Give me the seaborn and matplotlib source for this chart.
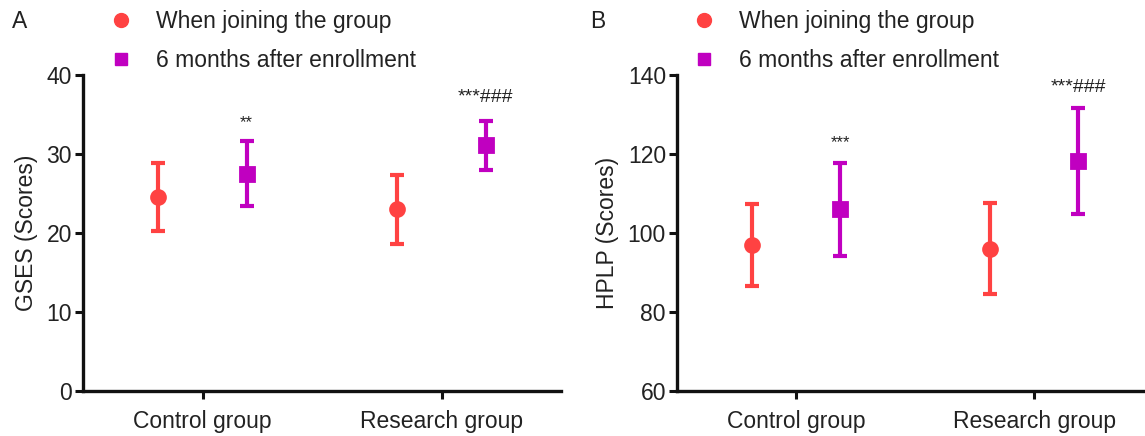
import matplotlib
matplotlib.use('Agg')
import matplotlib.pyplot as plt
from matplotlib.lines import Line2D
import seaborn as sns
import pandas as pd

# values (mean and SD)
groups = ["Control group", "Research group"]
times = ["When joining the group", "6 months after enrollment"]

gses_join = [24.5, 23.0]
gses_join_sd = [4.3, 4.35]
gses_6m = [27.5, 31.1]
gses_6m_sd = [4.1, 3.1]

hplp_join = [97.0, 96.0]
hplp_join_sd = [10.4, 11.5]
hplp_6m = [106.0, 118.2]
hplp_6m_sd = [11.8, 13.4]

gses_marks = ["**", "***###"]
gses_mark_y = [34.0, 37.2]
hplp_marks = ["***", "***###"]
hplp_mark_y = [123.0, 136.8]

colors = ["#FF4242", "#C000C0"]

sns.set_style("ticks")
plt.rcParams['font.family'] = ['Liberation Sans', 'DejaVu Sans']
plt.rcParams['text.color'] = '#222222'
plt.rcParams['axes.labelcolor'] = '#222222'
plt.rcParams['xtick.color'] = '#111111'
plt.rcParams['ytick.color'] = '#111111'
plt.rcParams['xtick.labelcolor'] = '#222222'
plt.rcParams['ytick.labelcolor'] = '#222222'

W, H = 1145, 436
fig = plt.figure(figsize=(W / 100, H / 100), dpi=100)


def panel(rect, join, join_sd, later, later_sd, marks, mark_y, ylim, yticks, ylabel, xmax):
    ax = fig.add_axes(rect)
    df = pd.DataFrame({
        "group": groups * 2,
        "time": [times[0]] * 2 + [times[1]] * 2,
        "score": join + later,
    })
    sns.pointplot(data=df, x="group", y="score", hue="time", hue_order=times,
                  palette=colors, markers=["o", "s"], linestyles=["none", "none"],
                  dodge=0.37, errorbar=None, markersize=10, legend=False, ax=ax,
                  zorder=5)
    lines = list(ax.lines)
    for line, sd, c in zip(lines, [join_sd, later_sd], colors):
        ax.errorbar(line.get_xdata(), line.get_ydata(), yerr=sd, fmt="none",
                    ecolor=c, elinewidth=3, capsize=5, capthick=3, zorder=4)
    xs = lines[1].get_xdata()
    ax.text(xs[0], mark_y[0], marks[0], ha="center", va="center", fontsize=12)
    ax.text(xs[1], mark_y[1], marks[1], ha="center", va="center", fontsize=14)

    ax.set_xlim(-0.5, xmax)
    ax.set_ylim(*ylim)
    ax.set_yticks(yticks)
    ax.set_xlabel("")
    ax.set_ylabel(ylabel, fontsize=16.5, labelpad=6)
    ax.tick_params(axis="both", labelsize=16.5, width=2.2, length=6)
    ax.tick_params(axis="y", pad=2)
    ax.tick_params(axis="x", pad=8)
    sns.despine(ax=ax)
    for s in ["left", "bottom"]:
        ax.spines[s].set_linewidth(2.4)
        ax.spines[s].set_color("#111111")

    handles = [Line2D([], [], marker="o", color=colors[0], linestyle="none", markersize=10),
               Line2D([], [], marker="s", color=colors[1], linestyle="none", markersize=9)]
    return ax, handles


bottom = (H - 391) / H
height = (391 - 75) / H
axA, hA = panel([83 / W, bottom, (561 - 83) / W, height], gses_join, gses_join_sd,
                gses_6m, gses_6m_sd, gses_marks, gses_mark_y, (0, 40),
                [0, 10, 20, 30, 40], "GSES (Scores)", 1.5)
axB, hB = panel([677 / W, bottom, (W - 677) / W, height], hplp_join, hplp_join_sd,
                hplp_6m, hplp_6m_sd, hplp_marks, hplp_mark_y, (60, 140),
                [60, 80, 100, 120, 140], "HPLP (Scores)", 1.466)

for handles, x0 in [(hA, 110), (hB, 693)]:
    fig.legend(handles, times, loc="upper left", bbox_to_anchor=(x0 / W, 1 - 10 / H),
               frameon=False, fontsize=16.5, handlelength=1.0, handletextpad=1.0,
               borderpad=0, borderaxespad=0, labelspacing=0.7)

fig.text(12 / W, 1 - 21 / H, "A", fontsize=16.5, va="center", ha="left")
fig.text(590 / W, 1 - 21 / H, "B", fontsize=16.5, va="center", ha="left")

fig.savefig("out.png", dpi=100)
